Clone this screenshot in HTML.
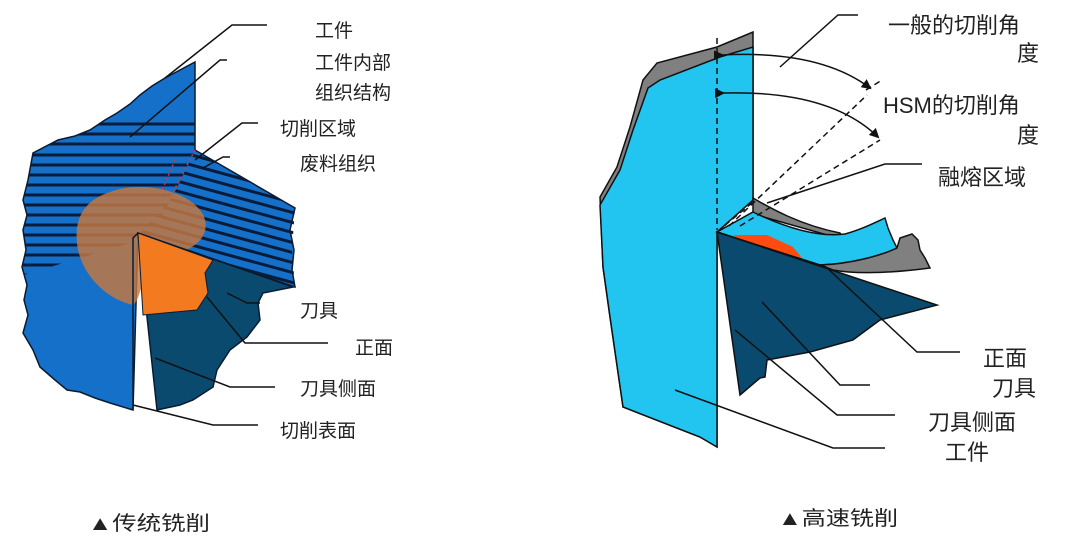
<!DOCTYPE html>
<html><head><meta charset="utf-8"><style>
html,body{margin:0;padding:0;background:#fff;}
svg{display:block;}
text{font-family:"Liberation Sans","Noto Sans CJK SC",sans-serif;fill:#222;}
</style></head><body>
<svg width="1080" height="543" viewBox="0 0 1080 543" xmlns="http://www.w3.org/2000/svg">
<defs>
<clipPath id="wp"><polygon points="195,62 195,150 295,208 290,230 294,250 292,270 295,287 138,233 133,410 110,403 95,398 80,392 67,390 55,380 40,367 33,350 23,333 28,315 24,300 27,285 22,267 26,250 23,230 27,215 23,200 28,180 33,153 58,140 75,136 90,130 105,120 117,113 130,104 140,95 152,86 165,78"/></clipPath>
<clipPath id="hz"><polygon points="195,62 195,150 172,198 150,237 0,282 0,0"/></clipPath>
<clipPath id="dg"><polygon points="195,150 295,208 292,250 295,287 140,233 172,198"/></clipPath>
<marker id="ar" markerWidth="10" markerHeight="10" refX="8" refY="5" orient="auto" markerUnits="userSpaceOnUse"><path d="M0,0 L10,5 L0,10 z" fill="#111"/></marker>
</defs>

<!-- LEFT DIAGRAM -->
<polygon points="195,62 195,150 295,208 290,230 294,250 292,270 295,287 138,233 133,410 110,403 95,398 80,392 67,390 55,380 40,367 33,350 23,333 28,315 24,300 27,285 22,267 26,250 23,230 27,215 23,200 28,180 33,153 58,140 75,136 90,130 105,120 117,113 130,104 140,95 152,86 165,78" fill="#1470c8" stroke="#0a1a30" stroke-width="1.5"/>
<g clip-path="url(#wp)">
<g clip-path="url(#hz)" stroke="#0b1c3a" stroke-width="3">
<line x1="0" y1="124" x2="200" y2="124"/><line x1="0" y1="134" x2="200" y2="134"/><line x1="0" y1="144" x2="200" y2="144"/><line x1="0" y1="155" x2="200" y2="155"/><line x1="0" y1="165" x2="200" y2="165"/><line x1="0" y1="175" x2="200" y2="175"/><line x1="0" y1="185" x2="200" y2="185"/><line x1="0" y1="195" x2="200" y2="195"/><line x1="0" y1="205" x2="200" y2="205"/><line x1="0" y1="215" x2="200" y2="215"/><line x1="0" y1="225" x2="200" y2="225"/><line x1="0" y1="235" x2="200" y2="235"/><line x1="0" y1="245" x2="200" y2="245"/><line x1="0" y1="255" x2="200" y2="255"/><line x1="0" y1="265" x2="200" y2="265"/><line x1="0" y1="275" x2="200" y2="275"/><line x1="0" y1="282" x2="200" y2="282"/>
</g>
</g>
<g clip-path="url(#dg)" stroke="#0b1c3a" stroke-width="3">
<line x1="100" y1="120" x2="320" y2="180"/><line x1="100" y1="130" x2="320" y2="190"/><line x1="100" y1="140" x2="320" y2="200"/><line x1="100" y1="150" x2="320" y2="210"/><line x1="100" y1="160" x2="320" y2="220"/><line x1="100" y1="170" x2="320" y2="230"/><line x1="100" y1="180" x2="320" y2="240"/><line x1="100" y1="190" x2="320" y2="250"/><line x1="100" y1="200" x2="320" y2="260"/><line x1="100" y1="210" x2="320" y2="270"/><line x1="100" y1="220" x2="320" y2="280"/><line x1="100" y1="230" x2="320" y2="290"/><line x1="100" y1="240" x2="320" y2="300"/><line x1="100" y1="250" x2="320" y2="310"/>
</g>
<line x1="195" y1="150" x2="170" y2="198" stroke="#e03040" stroke-width="1.5" stroke-dasharray="2,3"/>
<line x1="175" y1="160" x2="160" y2="195" stroke="#e03040" stroke-width="1.5" stroke-dasharray="2,3"/>
<line x1="215" y1="262" x2="293" y2="287" stroke="#e03040" stroke-width="1.5" stroke-dasharray="2,3"/>
<path d="M110,192 C140,180 185,190 200,210 C212,225 205,245 180,252 L150,265 C140,285 140,300 133,305 C110,300 85,280 78,250 C72,218 85,200 110,192 z" fill="#c7773f" opacity="0.82"/>
<polygon points="138,233 293,287 263,293 258,303 260,320 247,337 230,350 217,370 213,387 193,400 180,405 157,410" fill="#0a4a6e" stroke="#0a1a30" stroke-width="1.5"/>
<polygon points="138,233 213,260 205,273 208,293 197,310 175,312 143,315" fill="#f47a20" stroke="#0a1a30" stroke-width="1"/>
<polyline points="133,410 133,238 138,233" fill="none" stroke="#0a1a30" stroke-width="1.5"/>

<g stroke="#111" stroke-width="1.5" fill="none">
<polyline points="267,25 232,25 165,78"/>
<polyline points="227,60 220,60 130,137"/>
<polyline points="258,123 242,123 195,160"/>
<polyline points="230,157 223,157 203,168"/>
<polyline points="260,303 247,303 227,293"/>
<polyline points="328,343 245,343 207,297"/>
<polyline points="275,387 230,387 155,358"/>
<polyline points="258,425 213,425 133,405"/>
</g>
<g font-size="19">
<text x="315" y="37">工件</text>
<text x="315" y="69">工件内部</text>
<text x="315" y="99">组织结构</text>
<text x="280" y="135">切削区域</text>
<text x="300" y="170">废料组织</text>
<text x="300" y="317">刀具</text>
<text x="355" y="354">正面</text>
<text x="300" y="395">刀具侧面</text>
<text x="280" y="437">切削表面</text>
</g>

<!-- RIGHT DIAGRAM -->
<polygon points="753,32 753,200 717,232 717,447 700,437 623,407 610,317 603,267 600,197 617,167 630,127 643,80 657,63 717,47" fill="#808080" stroke="#111" stroke-width="1.5"/>
<polygon points="753,47 753,200 717,232 717,447 700,437 623,407 610,317 603,267 600,205 620,170 633,130 648,88 660,80 720,57" fill="#22c4f0" stroke="#111" stroke-width="1.5"/>
<path d="M753,198 C770,208 800,225 840,233 L845,240 L753,214 z" fill="#808080" stroke="#111" stroke-width="1.5"/>
<path d="M753,212 C780,225 815,238 845,234 C860,230 872,224 885,218 L888,228 L893,240 L897,248 C880,256 850,264 820,265 L717,232 z" fill="#22c4f0" stroke="#111" stroke-width="1.5"/>
<path d="M820,265 C850,264 880,256 897,248 L900,238 L912,234 L918,240 L920,250 L925,258 L930,268 C900,272 860,275 833,270 z" fill="#808080" stroke="#111" stroke-width="1.5"/>
<polygon points="733,235 767,235 793,247 802,258 740,240" fill="#ff4a10"/>
<polygon points="717,232 937,305 880,320 853,340 810,352 767,360 765,377 760,378 740,395" fill="#0a4a6e" stroke="#111" stroke-width="1.5"/>
<line x1="717" y1="232" x2="826" y2="267" stroke="#111" stroke-width="1.5"/>
<g stroke="#111" stroke-width="1.5" stroke-dasharray="6,4" fill="none">
<line x1="717" y1="38" x2="717" y2="230"/>
<line x1="717" y1="232" x2="753" y2="202"/>
<line x1="729" y1="226" x2="867" y2="95"/>
<line x1="740" y1="226" x2="880" y2="140"/>
<line x1="866" y1="90" x2="882" y2="80"/>
</g>
<path d="M722,55 Q820,50 870,88" fill="none" stroke="#111" stroke-width="1.5" marker-end="url(#ar)" marker-start="url(#ar)"/>
<path d="M723,93 Q830,90 878,137" fill="none" stroke="#111" stroke-width="1.5" marker-end="url(#ar)" marker-start="url(#ar)"/>
<g stroke="#111" stroke-width="1.5" fill="none">
<polyline points="858,15 838,15 780,67"/>
<polyline points="922,164 885,164 767,203"/>
<polyline points="960,352 917,352 826,267"/>
<polyline points="870,385 840,385 762,302"/>
<polyline points="895,415 837,415 735,330"/>
<polyline points="885,448 833,448 675,390"/>
</g>
<g font-size="22">
<text x="888" y="33">一般的切削角</text>
<text x="1017" y="61">度</text>
<text x="883" y="113">HSM的切削角</text>
<text x="1017" y="143">度</text>
<text x="938" y="185">融熔区域</text>
<text x="983" y="366">正面</text>
<text x="992" y="396">刀具</text>
<text x="928" y="430">刀具侧面</text>
<text x="945" y="460">工件</text>
</g>

<text x="88" y="530" font-size="20" textLength="122" lengthAdjust="spacingAndGlyphs" fill="#000">▲传统铣削</text>
<text x="778" y="525" font-size="20" textLength="120" lengthAdjust="spacingAndGlyphs" fill="#000">▲高速铣削</text>
</svg>
</body></html>
